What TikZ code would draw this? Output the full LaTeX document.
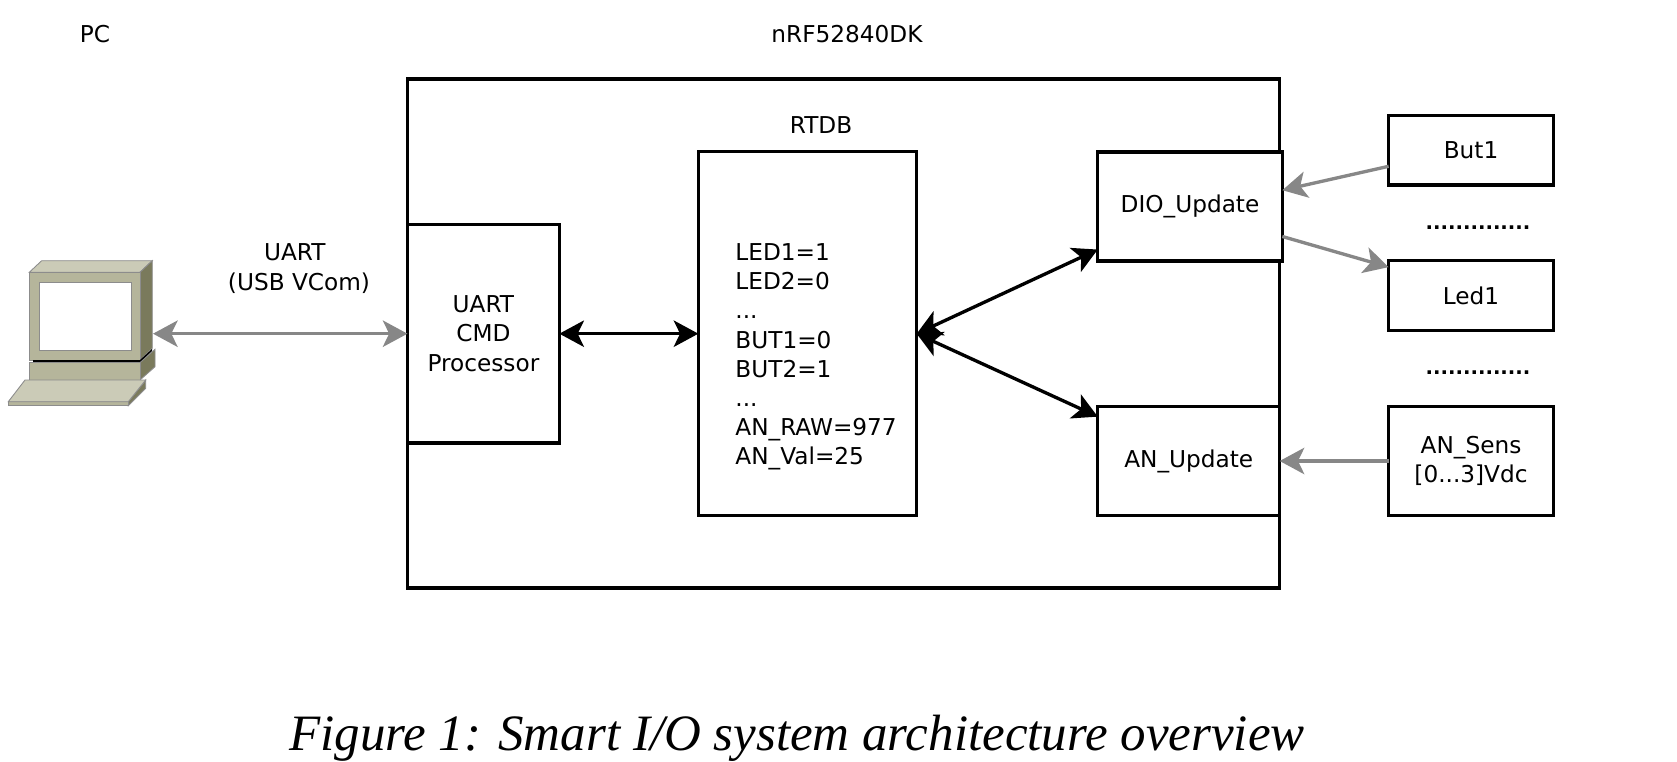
\documentclass[tikz,border=0pt]{standalone}
\usepackage{fontspec}
\setmainfont{DejaVu Sans}
\newfontfamily\captionfont{Liberation Serif}
\usetikzlibrary{arrows.meta}
\definecolor{pcfront}{HTML}{B5B59B}
\definecolor{pctop}{HTML}{CBCBB7}
\definecolor{pcside}{HTML}{7A7A5C}
\tikzset{
    every node/.style={font=\fontsize{6.6}{8.3}\selectfont},
    blockbox/.style={draw, fill=white, line width=0.95pt, inner sep=0pt, outer sep=0pt, align=center},
    plainlabel/.style={inner sep=0pt, align=center},
    dotrow/.style={plainlabel, font=\fontsize{5.6}{8.3}\selectfont\bfseries},
    blackarrow/.style={line width=0.95pt, -{Stealth[length=7pt, width=7.5pt, inset=1.8pt]}},
    greyarrow/.style={blackarrow, draw=black!47, fill=black!47},
    bothtips/.style={{Stealth[length=7pt, width=7.5pt, inset=1.8pt]}-{Stealth[length=7pt, width=7.5pt, inset=1.8pt]}},
    pcpart/.style={draw=black!45, line width=0.25pt},
}
\begin{document}
\begin{tikzpicture}[x=0.01cm, y=-0.01cm]
    \useasboundingbox (0, 0) rectangle (1677, 761);

    % the board and what is in it
    \node[blockbox, minimum width=8.72cm, minimum height=5.09cm] (board) at (843.5, 333.5) {};
    \node[blockbox, minimum width=1.518cm, minimum height=2.182cm] (uart) at (483.4, 333.7) {UART\\CMD\\Processor};
    \node[blockbox, minimum width=2.182cm, minimum height=3.636cm] (rtdb) at (807.5, 333.7) {};
    \node[plainlabel, anchor=west, align=left] (rtdbvars) at (734.7, 357) {LED1=1\\LED2=0\\...\\BUT1=0\\BUT2=1\\...\\AN\_RAW=977\\AN\_Val=25};
    \node[blockbox, minimum width=1.845cm, minimum height=1.09cm] (dio) at (1190, 206.5) {DIO\_Update};
    \node[blockbox, minimum width=1.818cm, minimum height=1.09cm] (an) at (1188.7, 461) {AN\_Update};

    % labels on top
    \node[plainlabel] (pclabel) at (95, 34) {PC};
    \node[plainlabel] (devlabel) at (847, 34) {nRF52840DK};
    \node[plainlabel] (rtdblabel) at (821, 125) {RTDB};
    \node[plainlabel] (uartlabel) at (299, 268.5) {UART\kern 2.4pt\\(USB VCom)};

    % outside
    \node[blockbox, minimum width=1.647cm, minimum height=0.695cm] (but) at (1471, 150.3) {But1};
    \node[blockbox, minimum width=1.647cm, minimum height=0.695cm] (led) at (1471, 295.5) {Led1};
    \node[blockbox, minimum width=1.647cm, minimum height=1.09cm] (sens) at (1471, 461) {AN\_Sens\\{}[0...3]Vdc};
    \node[dotrow] (dotsa) at (1478, 227.3) {..............};
    \node[dotrow] (dotsb) at (1478, 372.3) {..............};

    % the computer
    \filldraw[pcpart, fill=pctop] (29.3, 272.3) -- (41.7, 260.7) -- (152.3, 260.7) -- (140, 272.3) -- cycle;
    \filldraw[pcpart, fill=pcside] (140, 272.3) -- (152.3, 260.7) -- (152.3, 348.3) -- (140, 360) -- cycle;
    \filldraw[pcpart, fill=pcfront] (29.3, 272.3) rectangle (140, 360);
    \filldraw[pcpart, fill=white] (39.3, 282.7) rectangle (131.3, 350.7);
    \fill[black] (33, 360) -- (140, 360) -- (152, 349) -- (152, 351) -- (141, 362) -- (33, 362) -- cycle;
    \filldraw[pcpart, fill=pcside] (140, 362.7) -- (155, 349.3) -- (155, 366.7) -- (140, 380) -- cycle;
    \filldraw[pcpart, fill=pcfront] (29.3, 362.7) rectangle (140, 380);
    \filldraw[pcpart, fill=pcside] (128.3, 401.7) -- (145.7, 380) -- (145.7, 388.3) -- (128.3, 405.7) -- cycle;
    \filldraw[pcpart, fill=pcfront] (8.3, 401.7) rectangle (128.3, 405.7);
    \filldraw[pcpart, fill=pctop] (8.3, 401.7) -- (25, 380) -- (145.7, 380) -- (128.3, 401.7) -- cycle;
    \coordinate (pcport) at (153, 333.7);

    % connections
    \draw[greyarrow, bothtips] (pcport) -- (uart.west);
    \draw[blackarrow, bothtips] (uart.east) -- (rtdb.west);
    \draw[blackarrow, bothtips] (rtdb.east) -- (dio.205);
    \draw[blackarrow, bothtips] (rtdb.east) -- (an.154);
    \draw[greyarrow] (but.191) -- (dio.10);
    \draw[greyarrow] (dio.-18) -- (led.161);
    \draw[greyarrow] (sens.west) -- (an.east);

    \node[plainlabel] (caption) at (797, 738) {\captionfont\itshape\fontsize{14.5}{17}\selectfont Figure 1: Smart I/O system architecture overview};
\end{tikzpicture}
\end{document}
